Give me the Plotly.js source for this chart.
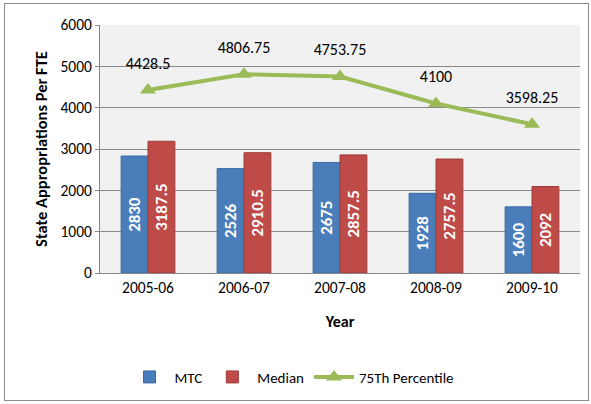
<!DOCTYPE html>
<html><head><meta charset="utf-8">
<script src="https://cdn.plot.ly/plotly-3.0.1.min.js"></script>
<style>html,body{margin:0;padding:0;background:#fff;}#frame{position:absolute;left:4px;top:3px;width:583px;height:396px;border:1px solid #8c8c8c;pointer-events:none;}</style>
</head><body>
<div id="chart" style="width:591px;height:404px;"></div>
<div id="frame"></div>
<script>
const years = ["2005-06","2006-07","2007-08","2008-09","2009-10"];
const mtc = [2830, 2526, 2675, 1928, 1600];
const median = [3187.5, 2910.5, 2857.5, 2757.5, 2092];
const pct75 = [4428.5, 4806.75, 4753.75, 4100, 3598.25];
const fontFam = "Carlito, 'Open Sans', 'Liberation Sans', sans-serif";
const traces = [
  {type:'bar', name:'MTC', x:years, y:mtc, text:mtc.map(String), textposition:'inside', textangle:-90,
   insidetextanchor:'middle', textfont:{color:'#fff', size:17, family:fontFam, weight:'bold'},
   marker:{color:'#4a7ebb', line:{color:'#3a6aa3', width:1}}},
  {type:'bar', name:'Median', x:years, y:median, text:median.map(String), textposition:'inside', textangle:-90,
   insidetextanchor:'middle', textfont:{color:'#fff', size:17, family:fontFam, weight:'bold'},
   marker:{color:'#be4b48', line:{color:'#a23c3a', width:1}}},
  {type:'scatter', mode:'lines+markers', name:'75Th Percentile', x:years, y:pct75,
   line:{color:'#9bbb59', width:4}, marker:{symbol:'triangle-up', size:14, color:'#9bbb59'}},
  {type:'scatter', mode:'markers+text', showlegend:false, hoverinfo:'skip', x:years, y:pct75,
   text:pct75.map(String), textposition:'top center',
   textfont:{color:'#000', size:16, family:fontFam},
   marker:{size:26, color:'rgba(0,0,0,0)'}}
];
const layout = {
  width:591, height:404,
  margin:{l:100, r:11, t:25, b:129},
  paper_bgcolor:'rgba(0,0,0,0)', plot_bgcolor:'#f1f1f1',
  font:{family:fontFam, size:15, color:'#000'},
  barmode:'group', bargap:0.44, bargroupgap:0,
  showlegend:true,
  legend:{orientation:'h', x:0.40, xanchor:'center', y:-0.42, yanchor:'middle', font:{size:15}, traceorder:'normal', itemwidth:40},
  xaxis:{type:'category', title:{text:'Year', font:{size:16, weight:'bold'}, standoff:20}, showline:true, linecolor:'#868686',
         ticks:'', tickfont:{size:15.5}, showgrid:false},
  yaxis:{title:{text:'State Appropriations Per FTE', font:{size:16.5, weight:'bold'}, standoff:8},
         range:[0,6000], dtick:1000, showline:true, linecolor:'#868686', ticks:'outside', ticklen:4, tickcolor:'#868686',
         gridcolor:'#8a8a8a', gridwidth:1, tickfont:{size:15.5}, zeroline:false}
};
Plotly.newPlot('chart', traces, layout, {displayModeBar:false});
</script>
</body></html>
